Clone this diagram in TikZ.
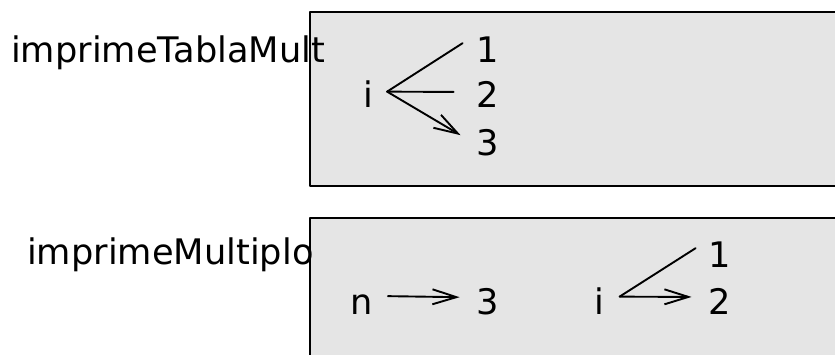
\documentclass[tikz,border=0pt]{standalone}
\usepackage{fontspec}
\setmainfont{DejaVu Sans}
\usetikzlibrary{arrows.meta}

\begin{document}
\begin{tikzpicture}[line cap=round,line join=round,x=1pt,y=-1pt,
	font=\fontsize{35.2}{40}\selectfont,
	frame/.style={draw=black,line width=1.1pt,fill=black!10},
	txt/.style={inner sep=0pt,anchor=base},
	ref/.style={line width=1.9pt},
	refarrow/.style={ref,-{Straight Barb[length=24pt,width=15pt,line width=1.9pt]}}]
	\useasboundingbox (0,0) rectangle (835,354);
	\clip (0,0) rectangle (835,354);
	\draw [frame] (310,12) rectangle (850,186);
	\draw [frame] (310,218) rectangle (850,370);
	\node [txt,anchor=base west] (tabla) at (11,62) {imprimeTablaMult};
	\node [txt,anchor=base west] (multiplo) at (27,264) {imprimeMultiplo};
	% imprimeTablaMult
	\node [txt] (iA) at (368,107) {i};
	\node [txt] (a1) at (488,62) {1};
	\node [txt] (a2) at (488,107) {2};
	\node [txt] (a3) at (488,155) {3};
	\draw [ref] ([xshift=14pt,yshift=2pt]iA.east) -- ([xshift=-14pt,yshift=6pt]a1.west);
	\draw [ref] ([xshift=14pt,yshift=2pt]iA.east) -- ([xshift=-23pt,yshift=2pt]a2.west);
	\draw [refarrow] ([xshift=14pt,yshift=2pt]iA.east) -- ([xshift=-16pt,yshift=7pt]a3.west);
	% imprimeMultiplo
	\node [txt] (n) at (361.5,314) {n};
	\node [txt] (b3) at (488,314) {3};
	\node [txt] (iB) at (599.5,314) {i};
	\node [txt] (b1) at (720,267) {1};
	\node [txt] (b2) at (720,314) {2};
	\draw [refarrow] ([xshift=15pt,yshift=8pt]n.east) -- ([xshift=-17pt,yshift=4pt]b3.west);
	\draw [ref] ([xshift=15pt,yshift=4pt]iB.east) -- ([xshift=-13pt,yshift=6pt]b1.west);
	\draw [refarrow] ([xshift=15pt,yshift=4pt]iB.east) -- ([xshift=-17pt,yshift=4pt]b2.west);
\end{tikzpicture}
\end{document}
